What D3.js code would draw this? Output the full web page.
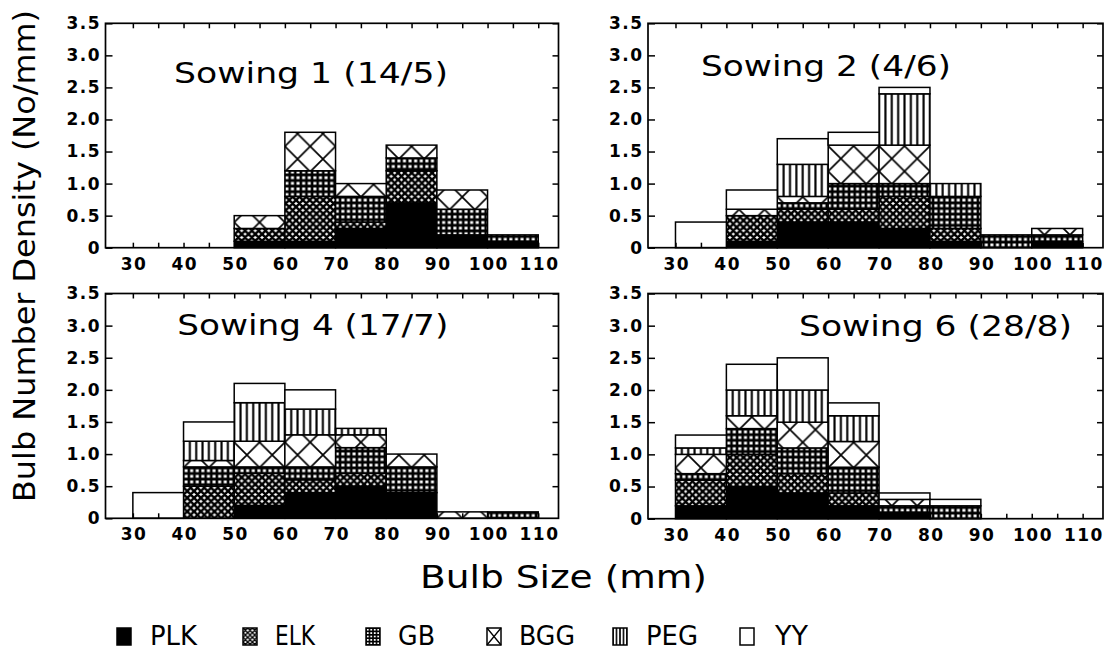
<!DOCTYPE html>
<html>
<head>
<meta charset="utf-8">
<script src="https://cdn.jsdelivr.net/npm/d3@7"></script>
<style>
  html, body { margin: 0; padding: 0; background: #fff; }
  svg { display: block; }
  text { font-family: "DejaVu Sans", sans-serif; fill: #000; }
</style>
</head>
<body>
<svg id="chart" width="1115" height="659"></svg>
<script>
// ---- data -------------------------------------------------------------
const binStarts = [30, 40, 50, 60, 70, 80, 90, 100];   // lower edge of each 10 mm class
const binWidth = 10;
const seriesKeys = ["PLK", "ELK", "GB", "BGG", "PEG", "YY"];
const panelTitles = ["Sowing 1 (14/5)", "Sowing 2 (4/6)", "Sowing 4 (17/7)", "Sowing 6 (28/8)"];
const yTicks = [0, 0.5, 1, 1.5, 2, 2.5, 3, 3.5];
const yTickLabels = ["0", "0.5", "1.0", "1.5", "2.0", "2.5", "3.0", "3.5"];
const xMinorTicks = [30, 35, 40, 45, 50, 55, 60, 65, 70, 75, 80, 85, 90, 95, 100, 105, 110];

// Sowing 1 (14/5)
const sow1PLK = [0, 0, 0.1, 0.1, 0.3, 0.7, 0.2, 0.1];
const sow1ELK = [0, 0, 0.2, 0.7, 0.1, 0.5, 0, 0];
const sow1GB  = [0, 0, 0, 0.4, 0.4, 0.2, 0.4, 0.1];
const sow1BGG = [0, 0, 0.2, 0.6, 0.2, 0.2, 0.3, 0];
const sow1PEG = [0, 0, 0, 0, 0, 0, 0, 0];
const sow1YY  = [0, 0, 0, 0, 0, 0, 0, 0];

// Sowing 2 (4/6)
const sow2PLK = [0, 0.1, 0.4, 0.4, 0.3, 0.1, 0, 0.1];
const sow2ELK = [0, 0.4, 0.2, 0.2, 0.5, 0.2, 0, 0];
const sow2GB  = [0, 0, 0.1, 0.4, 0.2, 0.5, 0.2, 0.1];
const sow2BGG = [0, 0.1, 0.1, 0.6, 0.6, 0, 0, 0.1];
const sow2PEG = [0, 0, 0.5, 0, 0.8, 0.2, 0, 0];
const sow2YY  = [0.4, 0.3, 0.4, 0.2, 0.1, 0, 0, 0];

// Sowing 4 (17/7)
const sow4PLK = [0, 0, 0.2, 0.4, 0.5, 0.4, 0, 0];
const sow4ELK = [0, 0.5, 0.5, 0.2, 0.2, 0, 0, 0];
const sow4GB  = [0, 0.3, 0.1, 0.2, 0.4, 0.4, 0, 0.1];
const sow4BGG = [0, 0.1, 0.4, 0.5, 0.2, 0.2, 0.1, 0];
const sow4PEG = [0, 0.3, 0.6, 0.4, 0.1, 0, 0, 0];
const sow4YY  = [0.4, 0.3, 0.3, 0.3, 0, 0, 0, 0];

// Sowing 6 (28/8)
const sow6PLK = [0.2, 0.5, 0.4, 0.2, 0.1, 0, 0, 0];
const sow6ELK = [0.4, 0.5, 0.3, 0.2, 0, 0, 0, 0];
const sow6GB  = [0.1, 0.4, 0.4, 0.4, 0.1, 0.2, 0, 0];
const sow6BGG = [0.3, 0.2, 0.4, 0.4, 0.1, 0, 0, 0];
const sow6PEG = [0.1, 0.4, 0.5, 0.4, 0, 0, 0, 0];
const sow6YY  = [0.2, 0.4, 0.5, 0.2, 0.1, 0.1, 0, 0];

const sowingSeries = [
  [sow1PLK, sow1ELK, sow1GB, sow1BGG, sow1PEG, sow1YY],
  [sow2PLK, sow2ELK, sow2GB, sow2BGG, sow2PEG, sow2YY],
  [sow4PLK, sow4ELK, sow4GB, sow4BGG, sow4PEG, sow4YY],
  [sow6PLK, sow6ELK, sow6GB, sow6BGG, sow6PEG, sow6YY]
];

// ---- layout -----------------------------------------------------------
const panels = [
  { x: 105.5, y: 23.3,  w: 453, h: 224.4, title: { x: 68.5, y: 59.4, len: 274 } },
  { x: 648.0, y: 23.3,  w: 455, h: 224.4, title: { x: 53,   y: 52.7, len: 250 } },
  { x: 105.5, y: 293.5, w: 453, h: 224.8, title: { x: 71.8, y: 41.5, len: 271 } },
  { x: 648.0, y: 293.5, w: 455, h: 225.2, title: { x: 151,  y: 42.5, len: 273 } }
];
const xDomain = [24.6, 114];

const svg = d3.select("#chart");
const defs = svg.append("defs");

// diagonal cross lattice for a square tile of side p (neighbouring lines drawn too so tiles join cleanly)
function crossPath(p) {
  let d = "";
  [-p, 0, p].forEach(o => {
    d += `M${o - 1},-1L${o + p + 1},${p + 1}`;
    d += `M${o + p + 1},-1L${o - 1},${p + 1}`;
  });
  return d;
}

function hatchPattern(id, w, h, x0, y0, pathD, sw) {
  const pt = defs.append("pattern").attr("id", id)
    .attr("patternUnits", "userSpaceOnUse").attr("width", w).attr("height", h)
    .attr("x", x0).attr("y", y0);
  pt.append("rect").attr("width", w).attr("height", h).attr("fill", "#fff");
  pt.append("path").attr("d", pathD).attr("stroke", "#000").attr("stroke-width", sw)
    .attr("fill", "none");
}

// Hatch patterns; one set per panel so the coarse cross lines up with the classes
function makePatterns(suffix, x0, y0, pxPerMm) {
  const e = 6.8;
  hatchPattern("ELK" + suffix, e, e, x0, y0, crossPath(e), 2.5);
  const g = 5.6;
  hatchPattern("GB" + suffix, g, g, x0 + g / 2, y0 + g / 2,
    `M0,${g / 2}H${g}M${g / 2},0V${g}`, 2.6);
  const p = (binWidth / 2) * pxPerMm;
  hatchPattern("BGG" + suffix, p, p, x0, y0, crossPath(p), 1.7);
  const v = binWidth * pxPerMm / 8;
  hatchPattern("PEG" + suffix, v, 10, x0 + v / 2, y0, `M${v / 2},0V10`, 2.1);
}

function fillFor(key, suffix) {
  if (key === "PLK") return "#000";
  if (key === "YY") return "#fff";
  return `url(#${key}${suffix})`;
}

panels.forEach((pn, i) => {
  const x = d3.scaleLinear().domain(xDomain).range([0, pn.w]);
  const y = d3.scaleLinear().domain([0, 3.5]).range([pn.h, 0]);
  const suffix = "p" + i;
  makePatterns(suffix, x(30), y(0), (x(40) - x(30)) / 10);

  const g = svg.append("g").attr("transform", `translate(${pn.x},${pn.y})`);

  const rows = binStarts.map((b, j) => {
    const r = { bin: b };
    seriesKeys.forEach((k, s) => { r[k] = sowingSeries[i][s][j]; });
    return r;
  });
  const stacked = d3.stack().keys(seriesKeys)(rows);

  stacked.forEach(layer => {
    g.append("g").selectAll("rect")
      .data(layer.filter(d => d[1] - d[0] > 1e-9))
      .join("rect")
      .attr("x", d => x(d.data.bin))
      .attr("width", d => x(d.data.bin + binWidth) - x(d.data.bin))
      .attr("y", d => y(d[1]))
      .attr("height", d => y(d[0]) - y(d[1]))
      .attr("fill", fillFor(layer.key, suffix))
      .attr("stroke", "#000")
      .attr("stroke-width", 1.5);
  });

  // axes: ticks point into the plot on all four sides
  const bottom = g.append("g").attr("transform", `translate(0,${pn.h})`)
    .call(d3.axisBottom(x).tickValues(xMinorTicks).tickSizeInner(-5).tickSizeOuter(0)
      .tickPadding(10).tickFormat(d => (d % 10 === 0 ? d : "")));
  g.append("g")
    .call(d3.axisTop(x).tickValues(xMinorTicks).tickSizeInner(-5).tickSizeOuter(0).tickFormat(""));
  const left = g.append("g")
    .call(d3.axisLeft(y).tickValues(yTicks).tickSizeInner(-7).tickSizeOuter(0)
      .tickPadding(4.5).tickFormat((d, k) => yTickLabels[k]));
  g.append("g").attr("transform", `translate(${pn.w},0)`)
    .call(d3.axisRight(y).tickValues(yTicks.slice(1)).tickSizeInner(-6).tickSizeOuter(0).tickFormat(""));

  g.selectAll(".domain").remove();
  g.selectAll(".tick line").attr("stroke", "#000").attr("stroke-width", 1.5);
  [bottom, left].forEach(ax => ax.selectAll("text")
    .attr("fill", "#000")
    .style("font-family", "DejaVu Sans")
    .style("font-size", "17px")
    .style("font-weight", "bold")
    .style("letter-spacing", "1.5px"));
  bottom.selectAll("text").attr("dx", "0.75px");

  // frame
  g.append("rect").attr("width", pn.w).attr("height", pn.h)
    .attr("fill", "none").attr("stroke", "#000").attr("stroke-width", 1.7);

  // panel title
  g.append("text")
    .attr("x", pn.title.x).attr("y", pn.title.y)
    .attr("textLength", pn.title.len).attr("lengthAdjust", "spacingAndGlyphs")
    .style("font-size", "29px")
    .text(panelTitles[i]);
});

// axis titles
svg.append("text")
  .attr("x", 420).attr("y", 588.3)
  .attr("textLength", 287).attr("lengthAdjust", "spacingAndGlyphs")
  .style("font-size", "32px")
  .text("Bulb Size (mm)");

svg.append("text")
  .attr("transform", "translate(35,256) rotate(-90)")
  .attr("text-anchor", "middle")
  .attr("textLength", 492).attr("lengthAdjust", "spacingAndGlyphs")
  .style("font-size", "30px")
  .text("Bulb Number Density (No/mm)");

// legend
const legendItems = [
  { key: "PLK", sx: 117, tx: 150, len: 47 },
  { key: "ELK", sx: 243, tx: 275, len: 40 },
  { key: "GB",  sx: 366, tx: 398, len: 37 },
  { key: "BGG", sx: 487, tx: 519, len: 56 },
  { key: "PEG", sx: 613, tx: 646, len: 52 },
  { key: "YY",  sx: 740, tx: 775, len: 33 }
];
const sw = 14, sh = 17, sy = 628;

// small versions of the hatches for the legend keys
hatchPattern("ELKlegend", 4.7, 4.7, 243, sy, crossPath(4.7), 1.4);
hatchPattern("GBlegend", 3.5, 3.4, 366 + 1.75, sy + 1.7, "M0,1.7H3.5M1.75,0V3.4", 1.6);
hatchPattern("PEGlegend", 3.5, 10, 613 + 1.75, sy, "M1.75,0V10", 1.6);

const legend = svg.append("g");
legendItems.forEach(it => {
  const fill = it.key === "PLK" ? "#000"
    : (it.key === "YY" || it.key === "BGG") ? "#fff" : `url(#${it.key}legend)`;
  legend.append("rect").attr("x", it.sx).attr("y", sy).attr("width", sw).attr("height", sh)
    .attr("fill", fill).attr("stroke", "#000").attr("stroke-width", 1.5);
  if (it.key === "BGG") {
    legend.append("path")
      .attr("d", `M${it.sx},${sy}L${it.sx + sw},${sy + sh}M${it.sx + sw},${sy}L${it.sx},${sy + sh}`)
      .attr("stroke", "#000").attr("stroke-width", 1.3);
  }
  legend.append("text").attr("x", it.tx).attr("y", sy + sh)
    .attr("textLength", it.len).attr("lengthAdjust", "spacingAndGlyphs")
    .style("font-size", "26px")
    .text(it.key);
});
</script>
</body>
</html>
